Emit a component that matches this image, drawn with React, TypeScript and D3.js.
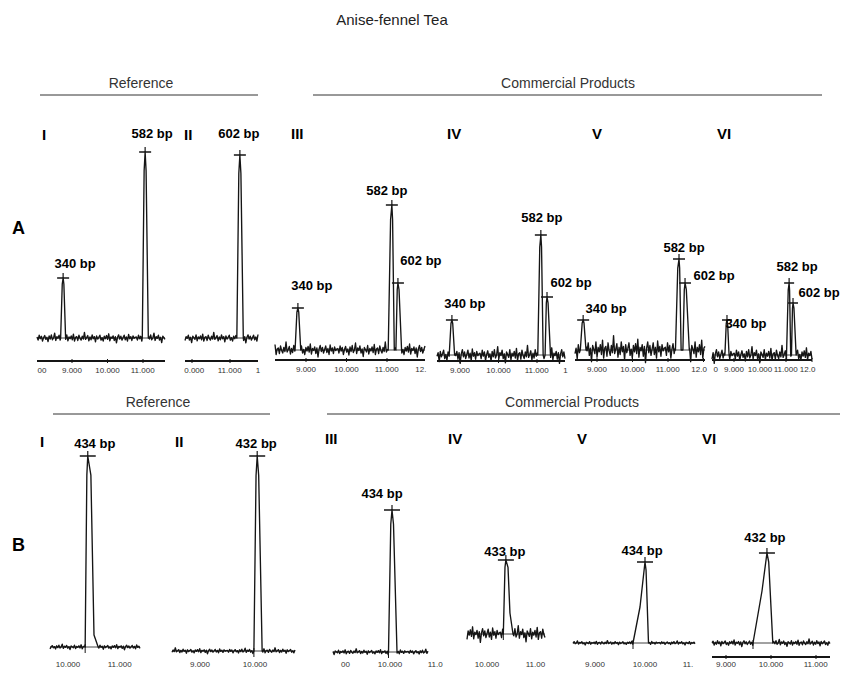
import React from "react";
import * as d3 from "d3";

const TITLE = "Anise-fennel Tea";
const PANEL_IDS = ["I", "II", "III", "IV", "V", "VI"];
const GROUP_LABELS = ["Reference", "Commercial Products"];
const ROW_LABELS = ["A", "B"];
const TICK_VALUES = [8, 9, 10, 11, 12];

// peak: [label, migration time, height (RFU), left half-width, right half-width]
type Peak = [string, number, number, number, number];

const PEAKS_A: Peak[][] = [
  [["340 bp", 8.75, 60, 0.07, 0.07], ["582 bp", 11.06, 186, 0.08, 0.09]],
  [["602 bp", 11.26, 183, 0.08, 0.09]],
  [["340 bp", 8.8, 42, 0.07, 0.07], ["582 bp", 11.12, 145, 0.09, 0.06], ["602 bp", 11.27, 67, 0.05, 0.09]],
  [["340 bp", 8.79, 35, 0.07, 0.07], ["582 bp", 11.1, 120, 0.08, 0.06], ["602 bp", 11.26, 58, 0.05, 0.09]],
  [["340 bp", 8.61, 30, 0.08, 0.08], ["582 bp", 11.31, 91, 0.1, 0.06], ["602 bp", 11.48, 67, 0.06, 0.12]],
  [["340 bp", 8.73, 35, 0.08, 0.08], ["582 bp", 11.12, 72, 0.1, 0.06], ["602 bp", 11.27, 52, 0.06, 0.12]],
];

const PEAKS_B: Peak[][] = [
  [["434 bp", 10.38, 191, 0.05, 0.2]],
  [["432 bp", 10.04, 195, 0.06, 0.09]],
  [["434 bp", 10.04, 142, 0.07, 0.1]],
  [["433 bp", 10.37, 74, 0.05, 0.14]],
  [["434 bp", 10.0, 81, 0.24, 0.07]],
  [["432 bp", 9.91, 90, 0.31, 0.13]],
];

// extra shoulder / tail points: [time, height]
const SHOULDERS_B: number[][][] = [
  [[10.5, 12]],
  [],
  [],
  [[10.45, 21]],
  [[9.9, 36]],
  [[9.7, 26], [9.8, 52]],
];

// hand-read baseline noise pattern
const NOISE = [
  0.3, -0.6, 0.8, -0.2, 0.5, -0.9, 0.1, 0.7, -0.4, 0.2, -1.0, 0.6, -0.3, 0.9, -0.5, 0.0, 1.4, -0.7, 0.4, -0.1,
  0.8, -0.6, 0.2, -1.3, 0.5, 0.1, -0.4, 0.9, -0.8, 0.3, -0.2, 0.6, -0.5, 1.1, -0.9, 0.2, 0.4, -0.7, 0.8, -0.1,
  -0.6, 0.5, -0.3, 1.6, -0.4, 0.1, 0.7, -0.8, 0.3, -0.5, 0.9, -0.2, 0.4, -1.1, 0.6, -0.3, 0.2, 0.8, -0.6, 0.1,
  -0.9, 0.5, -0.2, 0.7, -0.4, 1.2, -0.8, 0.3, -0.1, 0.6, -0.7, 0.4, -1.4, 0.2, 0.9, -0.3, 0.5, -0.6, 0.1, 0.8,
  -0.5, 0.3, -0.9, 1.0, -0.2, 0.4, -0.7, 0.6, -0.1, 0.2,
];

// ---------- layout (positions / styles) ----------
const FONT = "'Liberation Sans', Arial, Helvetica, sans-serif";
const INK = "#151515";
const TICK_FS = 8;

type Layout = {
  s: [number, number]; px: [number, number]; x0: number; x1: number; base: number;
  axisY: number | null; tickY: number; amp: number; off: number; cross: number; lx0: number; lx1: number;
};

const LAYOUT_A: Layout[] = [
  { s: [9, 11], px: [72, 143], x0: 37, x1: 165, base: 338, axisY: 361, tickY: 373, amp: 3.5, off: 0, cross: 6, lx0: 36, lx1: 168 },
  { s: [10, 11], px: [192, 230], x0: 185, x1: 258, base: 338, axisY: 361, tickY: 373, amp: 3.5, off: 17, cross: 6, lx0: 184, lx1: 262 },
  { s: [9, 11], px: [306, 387], x0: 275, x1: 425, base: 350, axisY: 360, tickY: 372, amp: 5, off: 33, cross: 6, lx0: 273, lx1: 428 },
  { s: [9, 11], px: [460, 537], x0: 437, x1: 565, base: 355, axisY: 361, tickY: 373, amp: 6, off: 51, cross: 6, lx0: 436, lx1: 568 },
  { s: [9, 11], px: [597, 668], x0: 575, x1: 705, base: 350, axisY: 360, tickY: 372, amp: 9, off: 8, cross: 6, lx0: 574, lx1: 707 },
  { s: [9, 11], px: [734, 786], x0: 712, x1: 812, base: 355, axisY: 360, tickY: 372, amp: 6, off: 70, cross: 5, lx0: 711, lx1: 815 },
];

const LAYOUT_B: Layout[] = [
  { s: [10, 11], px: [68, 120], x0: 50, x1: 140, base: 647, axisY: null, tickY: 667, amp: 2, off: 5, cross: 8, lx0: 50, lx1: 140 },
  { s: [9, 10], px: [200, 255], x0: 172, x1: 295, base: 651, axisY: null, tickY: 667, amp: 2, off: 40, cross: 8, lx0: 172, lx1: 297 },
  { s: [10, 11], px: [390, 440], x0: 333, x1: 428, base: 652, axisY: null, tickY: 667, amp: 2, off: 22, cross: 8, lx0: 338, lx1: 445 },
  { s: [10, 11], px: [487, 538], x0: 467, x1: 545, base: 634, axisY: null, tickY: 667, amp: 6, off: 60, cross: 8, lx0: 467, lx1: 548 },
  { s: [9, 10], px: [595, 645], x0: 573, x1: 695, base: 643, axisY: null, tickY: 667, amp: 1.5, off: 12, cross: 8, lx0: 573, lx1: 695 },
  { s: [9, 10], px: [726, 771], x0: 712, x1: 830, base: 643, axisY: 657, tickY: 667, amp: 2.5, off: 45, cross: 8, lx0: 712, lx1: 830 },
];

// label offsets relative to the peak apex: [dx, dy]
const LABEL_OFF_A = [
  [[12, -10], [7, -14]],
  [[-1, -17]],
  [[14, -18], [-5, -10], [23, -18]],
  [[13, -12], [1, -13], [24, -10]],
  [[23, -7], [5, -7], [29, -3]],
  [[19, 8], [8, -12], [26, -6]],
];
const LABEL_OFF_B = [[[7, -8]], [[-1, -8]], [[-10, -12]], [[-1, -4]], [[-3, -7]], [[-2, -11]]];

const NUMERALS_A = [[42, 140], [184, 140], [291, 139], [447, 139], [592, 139], [717, 139]];
const NUMERALS_B = [[40, 447], [175, 447], [325, 444], [448, 444], [577, 444], [702, 444]];

function charW(c: string) {
  return (c === "." ? 0.278 : 0.556) * TICK_FS;
}

// keep only the characters of a tick label that fall inside the panel (as in the cropped reference)
function trimLabel(s: string, cx: number, lo: number, hi: number) {
  const w = s.split("").reduce((a, c) => a + charW(c), 0);
  let x = cx - w / 2;
  let out = "";
  let start: number | null = null;
  for (const c of s) {
    const cw = charW(c);
    if (x >= lo - 0.5 && x + cw <= hi + 0.5) {
      if (start === null) start = x;
      out += c;
    }
    x += cw;
  }
  return { text: out, x: start };
}

function buildTrace(peaks: Peak[], shoulders: number[][], xs: d3.ScaleLinear<number, number>, L: Layout) {
  const d0 = xs.invert(L.x0);
  const d1 = xs.invert(L.x1);
  const n = Math.floor((L.x1 - L.x0) / 1.1);
  const pts: [number, number][] = [];
  for (let i = 0; i <= n; i++) {
    const t = d0 + ((d1 - d0) * i) / n;
    const inPeak = peaks.some((p) => t > p[1] - p[3] && t < p[1] + p[4]);
    if (inPeak) continue;
    pts.push([t, NOISE[(i + L.off) % NOISE.length] * L.amp]);
  }
  peaks.forEach((p) => {
    pts.push([p[1] - p[3], 0], [p[1], p[2]], [p[1] + p[4], 0]);
    // narrow peaks: slightly rounded top so the outline looks hollow
    if (p[3] < 0.15) pts.push([p[1] - 0.35 * p[3], p[2] * 0.9]);
    pts.push([p[1] + 0.3 * p[4], p[2] * 0.9]);
  });
  shoulders.forEach((s) => pts.push([s[0], s[1]]));
  pts.sort((a, b) => a[0] - b[0]);
  return pts;
}

function Panel({ peaks, shoulders, L, offs, row }: any) {
  const xs = d3.scaleLinear().domain(L.s).range(L.px);
  const ys = d3.scaleLinear().domain([0, 200]).range([L.base, L.base - 200]);
  const pts = buildTrace(peaks, shoulders, xs, L);
  const line = d3.line<[number, number]>().x((d) => xs(d[0])).y((d) => ys(d[1]));
  const fmt = d3.format(".3f");
  return (
    <g>
      <line x1={L.x0} x2={L.x1} y1={ys(0)} y2={ys(0)} stroke={INK} strokeWidth={0.8} />
      <path d={line(pts) || ""} fill="none" stroke={INK} strokeWidth={1.35} strokeLinejoin="round" />
      {row === "B" &&
        peaks.map((p: Peak, i: number) => (
          <line key={"it" + i} x1={xs(p[1] - p[3])} x2={xs(p[1] - p[3])} y1={ys(0) - 3} y2={ys(0) + 6} stroke={INK} strokeWidth={1} />
        ))}
      {peaks.map((p: Peak, i: number) => {
        const cx = xs(p[1]);
        const cy = ys(p[2]);
        const o = offs[i];
        return (
          <g key={i}>
            <line x1={cx - L.cross} x2={cx + L.cross} y1={cy} y2={cy} stroke={INK} strokeWidth={1.5} />
            <line x1={cx} x2={cx} y1={cy - 5} y2={cy} stroke={INK} strokeWidth={1.2} />
            <text x={cx + o[0]} y={cy + o[1]} textAnchor="middle" fontFamily={FONT} fontWeight="bold" fontSize={13} fill="#000">
              {p[0]}
            </text>
          </g>
        );
      })}
      {L.axisY !== null && (
        <line x1={L.x0} x2={L.x1} y1={L.axisY} y2={L.axisY} stroke={INK} strokeWidth={1.8} />
      )}
      {TICK_VALUES.map((t) => {
        const x = xs(t);
        const lab = trimLabel(fmt(t), x, L.lx0, L.lx1);
        return (
          <g key={t}>
            {L.axisY !== null && x >= L.x0 && x <= L.x1 && (
              <line x1={x} x2={x} y1={L.axisY - 2} y2={L.axisY + 2} stroke={INK} strokeWidth={1} />
            )}
            {lab.text && lab.x !== null && (
              <text x={lab.x} y={L.tickY} textAnchor="start" fontFamily={FONT} fontSize={TICK_FS} fill="#333">
                {lab.text}
              </text>
            )}
          </g>
        );
      })}
    </g>
  );
}

export default function App() {
  return (
    <svg width={843} height={675} style={{ position: "absolute", left: 0, top: 0, display: "block" }}>
      <rect x={0} y={0} width={843} height={675} fill="#fff" />
      <text x={392} y={25} textAnchor="middle" fontFamily={FONT} fontSize={15} fill="#222">
        {TITLE}
      </text>

      <text x={141} y={88} textAnchor="middle" fontFamily={FONT} fontSize={14} fill="#333">{GROUP_LABELS[0]}</text>
      <line x1={40} x2={258} y1={95} y2={95} stroke="#333" strokeWidth={1} />
      <text x={568} y={88} textAnchor="middle" fontFamily={FONT} fontSize={14} fill="#333">{GROUP_LABELS[1]}</text>
      <line x1={313} x2={822} y1={95} y2={95} stroke="#333" strokeWidth={1} />

      <text x={158} y={407} textAnchor="middle" fontFamily={FONT} fontSize={14} fill="#333">{GROUP_LABELS[0]}</text>
      <line x1={53} x2={270} y1={414} y2={414} stroke="#333" strokeWidth={1} />
      <text x={572} y={407} textAnchor="middle" fontFamily={FONT} fontSize={14} fill="#333">{GROUP_LABELS[1]}</text>
      <line x1={327} x2={840} y1={414} y2={414} stroke="#333" strokeWidth={1} />

      <text x={12} y={234} fontFamily={FONT} fontWeight="bold" fontSize={18} fill="#000">{ROW_LABELS[0]}</text>
      <text x={12} y={551} fontFamily={FONT} fontWeight="bold" fontSize={18} fill="#000">{ROW_LABELS[1]}</text>

      {PANEL_IDS.map((id, i) => (
        <text key={"na" + i} x={NUMERALS_A[i][0]} y={NUMERALS_A[i][1]} fontFamily={FONT} fontWeight="bold" fontSize={15} fill="#000">{id}</text>
      ))}
      {PANEL_IDS.map((id, i) => (
        <text key={"nb" + i} x={NUMERALS_B[i][0]} y={NUMERALS_B[i][1]} fontFamily={FONT} fontWeight="bold" fontSize={15} fill="#000">{id}</text>
      ))}

      {PEAKS_A.map((pk, i) => (
        <Panel key={"a" + i} peaks={pk} shoulders={[]} L={LAYOUT_A[i]} offs={LABEL_OFF_A[i]} row="A" />
      ))}
      {PEAKS_B.map((pk, i) => (
        <Panel key={"b" + i} peaks={pk} shoulders={SHOULDERS_B[i]} L={LAYOUT_B[i]} offs={LABEL_OFF_B[i]} row="B" />
      ))}
    </svg>
  );
}
